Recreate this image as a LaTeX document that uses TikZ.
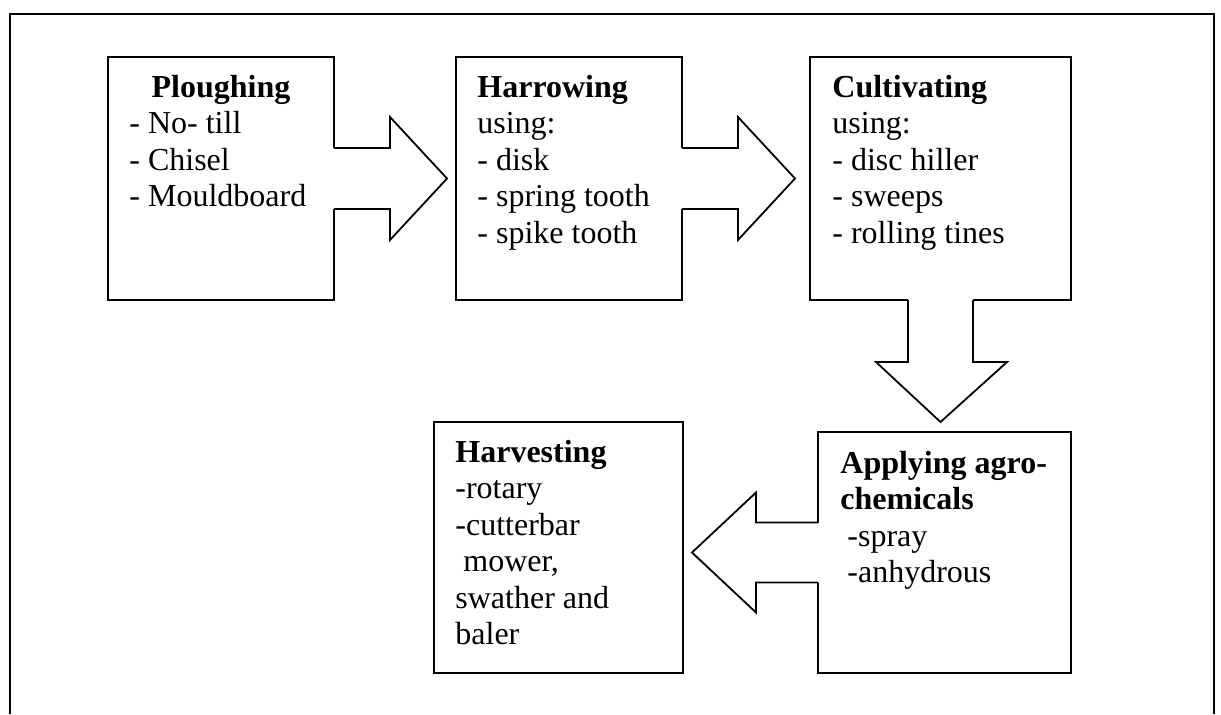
\documentclass[tikz,border=0pt]{standalone}
\usepackage{fontspec}
\setmainfont{Liberation Serif}
\usetikzlibrary{calc}
\begin{document}
\begin{tikzpicture}[x=0.5pt,y=-0.5pt,
  box/.style={draw,line width=0.9pt,rectangle,inner sep=0pt,outer sep=0pt,anchor=north west},
  txt/.style={anchor=base west,inner sep=0pt,font=\fontsize{16}{18}\selectfont},
  ttl/.style={txt,font=\fontsize{16}{18}\selectfont\bfseries},
  blkfill/.style={fill=white},
  blkline/.style={draw,line width=0.9pt,line join=miter},
  frame/.style={draw,line width=0.9pt}]
\useasboundingbox (0,0) rectangle (1221,714);
% outer frame
\coordinate (fbl) at (10,714);
\coordinate (ftl) at (10,14);
\coordinate (ftr) at (1214,14);
\coordinate (fbr) at (1214,714);
\draw[frame] (fbl) -- (ftl) -- (ftr) -- (fbr);

% boxes
\node[box,minimum width=113pt,minimum height=121.5pt] (plough) at (108,57) {};
\node[box,minimum width=113pt,minimum height=121.5pt] (harrow) at (456,57) {};
\node[box,minimum width=130.5pt,minimum height=121.5pt] (cultiv) at (810,57) {};
\node[box,minimum width=126.5pt,minimum height=120.5pt] (apply) at (818,432) {};
\node[box,minimum width=124.5pt,minimum height=125.5pt] (harvest) at (434,422) {};

% block arrow 1: plough -> harrow
\fill[blkfill] ($(plough.east)+(-2,-30.5)$) -- ($(plough.east)+(56,-30.5)$) -- ($(plough.east)+(56,-61.5)$)
  -- ($(plough.east)+(113,0)$) -- ($(plough.east)+(56,61.5)$) -- ($(plough.east)+(56,30.5)$) -- ($(plough.east)+(-2,30.5)$) -- cycle;
\draw[blkline] ($(plough.east)+(0,-30.5)$) -- ($(plough.east)+(56,-30.5)$) -- ($(plough.east)+(56,-61.5)$)
  -- ($(plough.east)+(113,0)$) -- ($(plough.east)+(56,61.5)$) -- ($(plough.east)+(56,30.5)$) -- ($(plough.east)+(0,30.5)$);

% block arrow 2: harrow -> cultiv
\fill[blkfill] ($(harrow.east)+(-2,-30.5)$) -- ($(harrow.east)+(56,-30.5)$) -- ($(harrow.east)+(56,-61.5)$)
  -- ($(harrow.east)+(113,0)$) -- ($(harrow.east)+(56,61.5)$) -- ($(harrow.east)+(56,30.5)$) -- ($(harrow.east)+(-2,30.5)$) -- cycle;
\draw[blkline] ($(harrow.east)+(0,-30.5)$) -- ($(harrow.east)+(56,-30.5)$) -- ($(harrow.east)+(56,-61.5)$)
  -- ($(harrow.east)+(113,0)$) -- ($(harrow.east)+(56,61.5)$) -- ($(harrow.east)+(56,30.5)$) -- ($(harrow.east)+(0,30.5)$);

% block arrow 3: cultiv -> apply (down)
\coordinate (cs) at (940.5,300);
\fill[blkfill] ($(cs)+(-32.5,-2)$) -- ($(cs)+(-32.5,62)$) -- ($(cs)+(-64.5,62)$)
  -- ($(cs)+(0,122)$) -- ($(cs)+(66.5,62)$) -- ($(cs)+(32.5,62)$) -- ($(cs)+(32.5,-2)$) -- cycle;
\draw[blkline] ($(cs)+(-32.5,0)$) -- ($(cs)+(-32.5,62)$) -- ($(cs)+(-64.5,62)$)
  -- ($(cs)+(0,122)$) -- ($(cs)+(66.5,62)$) -- ($(cs)+(32.5,62)$) -- ($(cs)+(32.5,0)$);

% block arrow 4: apply -> harvest (left)
\fill[blkfill] ($(apply.west)+(2,-30)$) -- ($(apply.west)+(-62,-30)$) -- ($(apply.west)+(-62,-60)$)
  -- ($(apply.west)+(-126,0)$) -- ($(apply.west)+(-62,60)$) -- ($(apply.west)+(-62,30)$) -- ($(apply.west)+(2,30)$) -- cycle;
\draw[blkline] ($(apply.west)+(0,-30)$) -- ($(apply.west)+(-62,-30)$) -- ($(apply.west)+(-62,-60)$)
  -- ($(apply.west)+(-126,0)$) -- ($(apply.west)+(-62,60)$) -- ($(apply.west)+(-62,30)$) -- ($(apply.west)+(0,30)$);

% texts: Ploughing
\node[ttl,anchor=base] (pt) at (221,97) {Ploughing};
\node[txt] (p1) at (129,133.5) {- No- till};
\node[txt] (p2) at (129,170) {- Chisel};
\node[txt] (p3) at (129,206.5) {- Mouldboard};

% Harrowing
\node[ttl] (ht) at (477,97) {Harrowing};
\node[txt] (h1) at (477,133.5) {using:};
\node[txt] (h2) at (477,170) {- disk};
\node[txt] (h3) at (477,206.5) {- spring tooth};
\node[txt] (h4) at (477,243) {- spike tooth};

% Cultivating
\node[ttl] (ct) at (832,97) {Cultivating};
\node[txt] (c1) at (832,133.5) {using:};
\node[txt] (c2) at (832,170) {- disc hiller};
\node[txt] (c3) at (832,206.5) {- sweeps};
\node[txt] (c4) at (832,243) {- rolling tines};

% Applying agro-chemicals
\node[ttl] (at1) at (840,473) {Applying agro-};
\node[ttl] (at2) at (840,509.5) {chemicals};
\node[txt] (a1) at (847,546) {-spray};
\node[txt] (a2) at (847,582.5) {-anhydrous};

% Harvesting
\node[ttl] (vt) at (455,462) {Harvesting};
\node[txt] (v1) at (455,498.5) {-rotary};
\node[txt] (v2) at (455,535) {-cutterbar};
\node[txt] (v3) at (463,571.5) {mower,};
\node[txt] (v4) at (455,608) {swather and};
\node[txt] (v5) at (455,644.5) {baler};
\end{tikzpicture}
\end{document}
